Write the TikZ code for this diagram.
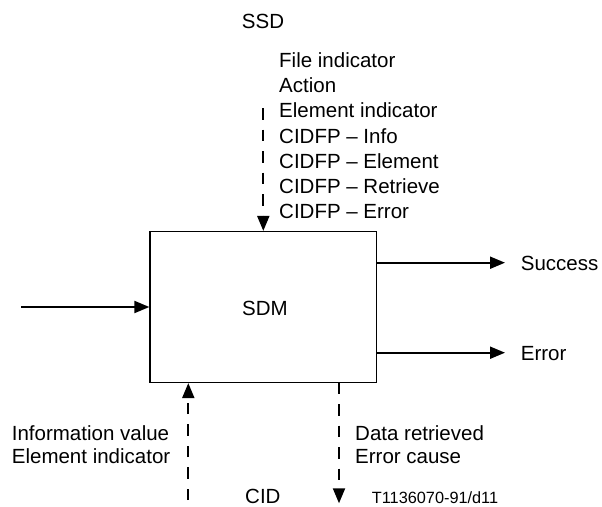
\documentclass[tikz,border=0pt]{standalone}
\usepackage{fontspec}
\setmainfont{Liberation Sans}
\usetikzlibrary{arrows.meta}
\begin{document}
\begin{tikzpicture}[x=1pt,y=-1pt,
  lbl/.style={anchor=base west,inner sep=0pt,font=\fontsize{20.5}{24}\selectfont},
  small/.style={anchor=base west,inner sep=0pt,font=\fontsize{16.3}{19}\selectfont},
  box/.style={draw,line width=1.2pt,minimum width=226.7pt,minimum height=151pt,inner sep=0pt,font=\fontsize{20.5}{24}\selectfont},
  flow/.style={line width=2pt,-{Triangle[length=15pt,width=12pt]}},
  dflow/.style={flow,dash pattern=on 11.5pt off 10pt}]
\useasboundingbox (0,0) rectangle (602,506);
% main box
\node[box] (sdm) at (263.3,307) {};
\node[lbl] (sdmtxt) at (242,315) {SDM};
% top labels
\node[lbl] (ssd) at (241.7,28.3) {SSD};
\node[lbl] (t1) at (279,67.7) {File indicator};
\node[lbl] (t2) at (279,92.8) {Action};
\node[lbl] (t3) at (279,117.9) {Element indicator};
\node[lbl] (t4) at (279,143.0) {CIDFP -- Info};
\node[lbl] (t5) at (279,168.1) {CIDFP -- Element};
\node[lbl] (t6) at (279,193.2) {CIDFP -- Retrieve};
\node[lbl] (t7) at (279,218.3) {CIDFP -- Error};
% right labels
\node[lbl] (succ) at (520.7,270) {Success};
\node[lbl] (err) at (520.7,360) {Error};
% bottom labels
\node[lbl] (b1) at (11.7,440.7) {Information value};
\node[lbl] (b2) at (11.7,463.3) {Element indicator};
\node[lbl] (c1) at (355,440.7) {Data retrieved};
\node[lbl] (c2) at (355,463.3) {Error cause};
\node[lbl] (cid) at (245,503.3) {CID};
\node[small] (ref) at (371.7,503.3) {T1136070-91/d11};
% connector end points
\coordinate (topS) at (263.3,108);
\coordinate (inS) at (21,307);
\coordinate (sS) at (376.7,262.7);
\coordinate (sE) at (505,262.7);
\coordinate (eS) at (376.7,352.7);
\coordinate (eE) at (505,352.7);
\coordinate (upS) at (188.3,500);
\coordinate (dnS) at (339,382.5);
\coordinate (dnE) at (339,503.3);
% connectors
\draw[dflow] (topS) -- (topS |- sdm.north);
\draw[flow] (inS) -- (sdm.west);
\draw[flow] (sS) -- (sE);
\draw[flow] (eS) -- (eE);
\draw[dflow] (upS) -- (upS |- sdm.south);
\draw[dflow] (dnS) -- (dnE);
\end{tikzpicture}
\end{document}
